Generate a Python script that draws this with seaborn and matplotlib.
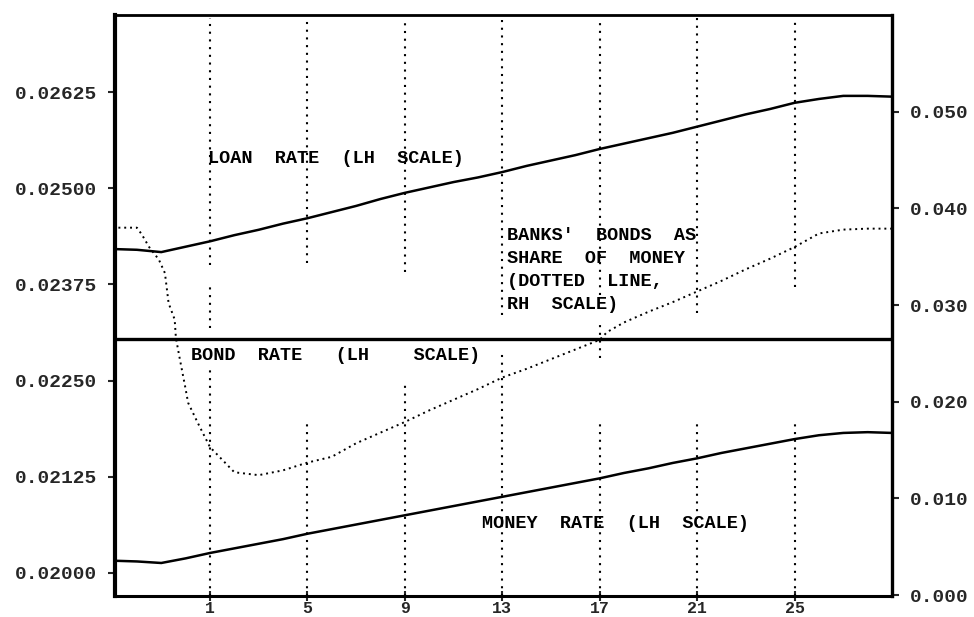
import matplotlib
matplotlib.use("Agg")
import matplotlib.pyplot as plt
import seaborn as sns
import pandas as pd

# quarters on the horizontal axis
quarters = [-3, -2, -1, 0, 1, 2, 3, 4, 5, 6, 7, 8, 9, 10, 11, 12, 13, 14, 15,
            16, 17, 18, 19, 20, 21, 22, 23, 24, 25, 26, 27, 28, 29]

# loan rate (LH scale)
loan_rate = [0.02421, 0.02420, 0.02417, 0.02424, 0.02431, 0.02439, 0.02446,
             0.02454, 0.02461, 0.02469, 0.02477, 0.02486, 0.02494, 0.02501,
             0.02508, 0.02514, 0.02521, 0.02529, 0.02536, 0.02543, 0.02551,
             0.02558, 0.02565, 0.02572, 0.02580, 0.02588, 0.02596, 0.02603,
             0.02611, 0.02616, 0.02620, 0.02620, 0.02619]

# money rate (LH scale)
money_rate = [0.02016, 0.02015, 0.02013, 0.02019, 0.02026, 0.02032, 0.02038,
              0.02044, 0.02051, 0.02057, 0.02063, 0.02069, 0.02075, 0.02081,
              0.02087, 0.02093, 0.02099, 0.02105, 0.02111, 0.02117, 0.02123,
              0.02130, 0.02136, 0.02143, 0.02149, 0.02156, 0.02162, 0.02168,
              0.02174, 0.02179, 0.02182, 0.02183, 0.02182]

# bond rate (LH scale), flat
bond_rate = 0.02304

# banks' bonds as share of money (RH scale)
share_x = [-3, -2, -1.8, -1.5, -1.1, -0.85, -0.7, -0.45, -0.4, -0.23, 0, 0.1,
           0.5, 1, 1.5, 2, 3, 4, 5, 6, 7, 8, 9, 10, 11, 12, 13, 14, 15, 16,
           17, 17.3, 18, 19, 20, 21, 22, 23, 24, 25, 26, 27, 28, 29]
share = [0.0380, 0.0380, 0.0373, 0.0360, 0.0347, 0.0333, 0.0302, 0.0285,
         0.0266, 0.0243, 0.0213, 0.0199, 0.0178, 0.0153, 0.0140, 0.0127,
         0.0124, 0.0129, 0.0137, 0.0143, 0.0157, 0.0168, 0.0179, 0.0191,
         0.0202, 0.0213, 0.0225, 0.0234, 0.0244, 0.0254, 0.0264, 0.0272,
         0.0282, 0.0293, 0.0303, 0.0314, 0.0325, 0.0337, 0.0348, 0.0360,
         0.0374, 0.0378, 0.0379, 0.0379]

xticks = [1, 5, 9, 13, 17, 21, 25]
left_ticks = [0.02000, 0.02125, 0.02250, 0.02375, 0.02500, 0.02625]
right_ticks = [0.000, 0.010, 0.020, 0.030, 0.040, 0.050]

sns.set_style("white")
plt.rcParams['font.family'] = ['Liberation Mono', 'DejaVu Sans Mono']
plt.rcParams['font.weight'] = 'bold'

fig = plt.figure(figsize=(9.74, 6.17), dpi=100)
ax = fig.add_axes([115/974, 1 - 596/617, (892 - 115)/974, (596 - 15)/617])
ax2 = ax.twinx()

df = pd.DataFrame({'q': quarters, 'loan': loan_rate, 'money': money_rate})
sns.lineplot(data=df, x='q', y='loan', ax=ax, color='black', lw=1.8)
sns.lineplot(data=df, x='q', y='money', ax=ax, color='black', lw=1.8)
ax.axhline(bond_rate, color='black', lw=2.4)

sns.lineplot(x=share_x, y=share, ax=ax2, color='black', lw=1.4,
             linestyle=(0, (1, 2.0)))

# dotted vertical grid lines, broken where the labels sit
segs = {1: [(0.570, 0.995), (0.461, 0.532), (0.0, 0.394)],
        5: [(0.573, 0.995), (0.0, 0.298)],
        9: [(0.558, 0.995), (0.0, 0.363)],
        13: [(0.484, 0.995), (0.0, 0.418)],
        17: [(0.518, 0.995), (0.410, 0.475), (0.0, 0.299)],
        21: [(0.487, 0.995), (0.0, 0.299)],
        25: [(0.532, 0.995), (0.0, 0.299)]}
for xv, parts in segs.items():
    for lo, hi in parts:
        ax.axvline(xv, ymin=lo, ymax=hi, color='black', lw=1.5,
                   linestyle=(0, (1, 2.7)))

ax.set_xlim(-2.9, 29.0)
ax.set_ylim(0.019701, 0.027251)
ax2.set_ylim(-0.0001, 0.0600)

ax.set_xticks(xticks)
ax.set_xticklabels([str(t) for t in xticks])
ax.set_yticks(left_ticks)
ax.set_yticklabels(['%.5f' % t for t in left_ticks])
ax2.set_yticks(right_ticks)
ax2.set_yticklabels(['%.3f' % t for t in right_ticks])

ax.set_xlabel('')
ax.set_ylabel('')
ax2.set_ylabel('')

ax.tick_params(axis='y', direction='out', length=5, width=1.5, pad=8,
               labelsize=14, left=True)
ax.tick_params(axis='x', direction='inout', length=7, width=1.5, pad=0,
               labelsize=12, bottom=True)
ax2.tick_params(axis='y', direction='out', length=5, width=1.5, pad=8,
                labelsize=14, right=True)

for a in (ax, ax2):
    for s in a.spines.values():
        s.set_color('black')
ax.spines['left'].set_linewidth(3.0)
ax.spines['bottom'].set_linewidth(2.2)
ax.spines['top'].set_linewidth(2.0)
ax2.spines['right'].set_linewidth(2.4)
ax2.spines['left'].set_visible(False)

tk = dict(fontsize=13.3, fontweight='bold', color='black')
ax.text(0.92, 0.02539, 'LOAN  RATE  (LH  SCALE)', va='center', ha='left', **tk)
ax.text(0.2, 0.02283, 'BOND  RATE   (LH    SCALE)', va='center', ha='left', **tk)
ax.text(12.15, 0.02064, 'MONEY  RATE  (LH  SCALE)', va='center', ha='left', **tk)
ax.text(13.2, 0.02394, "BANKS'  BONDS  AS\nSHARE  OF  MONEY\n(DOTTED  LINE,\nRH  SCALE)",
        va='center', ha='left', linespacing=1.45, **tk)

plt.savefig('out.png', dpi=100)
